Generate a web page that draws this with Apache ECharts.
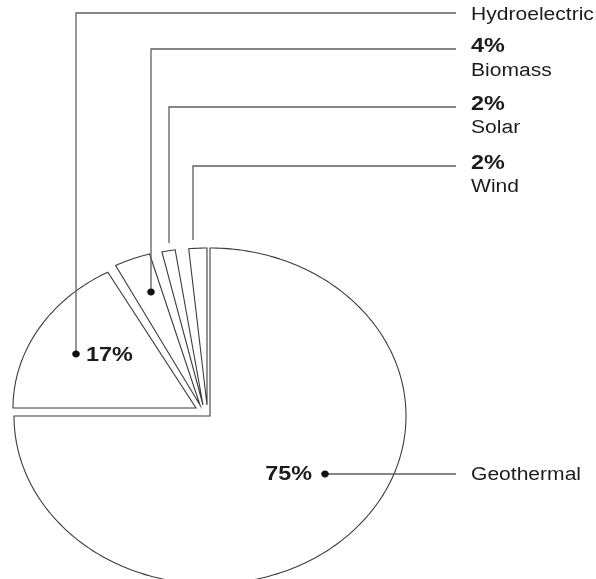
<!DOCTYPE html>
<html>
<head>
<meta charset="utf-8">
<script src="https://cdn.jsdelivr.net/npm/echarts@6/dist/echarts.min.js"></script>
<style>
  html, body { margin: 0; padding: 0; background: #ffffff; }
  #chart { width: 596px; height: 579px; }
</style>
</head>
<body>
<div id="chart"></div>
<script>
// Energy sources and their shares (percent), clockwise from 12 o'clock
const sources = ['Geothermal', 'Hydroelectric', 'Biomass', 'Solar', 'Wind'];
const shares = [75, 17, 4, 2, 2];
const shareLabels = ['75%', '17%', '4%', '2%', '2%'];

// Drawing geometry (pixels / degrees). The whole figure is stretched
// horizontally, so the pie is an ellipse and text is widened by STRETCH.
const STRETCH = 1.17;
const sliceGeom = [
  { apex: [210, 416], rx: 196, ry: 168, padStart: 0,   padEnd: 0 },
  { apex: [196, 408], rx: 183, ry: 155, padStart: 0,   padEnd: 0 },
  { apex: [200, 405], rx: 184, ry: 157, padStart: 1.5, padEnd: 1.5 },
  { apex: [203, 405], rx: 184, ry: 157, padStart: 1.5, padEnd: 1.5 },
  { apex: [207, 405], rx: 184, ry: 157, padStart: 1.5, padEnd: 0 }
];
const labelColumnX = 471;
const leaderEndX = 456;
const leaders = [
  { path: [[325, 474], [leaderEndX, 474]], dot: true,
    pct: { x: 312, y: 474, align: 'right' }, name: { x: labelColumnX, y: 475 } },
  { path: [[76, 354], [76, 13], [leaderEndX, 13]], dot: true,
    pct: { x: 86, y: 355, align: 'left' }, name: { x: labelColumnX, y: 15 } },
  { path: [[151, 292], [151, 49], [leaderEndX, 49]], dot: true,
    pct: { x: labelColumnX, y: 46, align: 'left' }, name: { x: labelColumnX, y: 71 } },
  { path: [[169, 243], [169, 107], [leaderEndX, 107]], dot: false,
    pct: { x: labelColumnX, y: 104, align: 'left' }, name: { x: labelColumnX, y: 128 } },
  { path: [[193, 240], [193, 166], [leaderEndX, 166]], dot: false,
    pct: { x: labelColumnX, y: 163, align: 'left' }, name: { x: labelColumnX, y: 187 } }
];

const FONT = '"Liberation Sans", Arial, Helvetica, sans-serif';
const total = shares.reduce((a, b) => a + b, 0);
const startShare = [];
shares.reduce((acc, v, i) => { startShare[i] = acc; return acc + v; }, 0);
const DEG = Math.PI / 180;

function stretchedText(str, x, y, align, font) {
  return {
    type: 'text', x: x, y: y, scaleX: STRETCH, z2: 7,
    style: { text: str, x: 0, y: 0, align: align, verticalAlign: 'middle',
      fill: '#1c1c1c', font: font }
  };
}

function renderSlice(params, api) {
  const i = params.dataIndex;
  const value = api.value(1);
  const g = sliceGeom[i];
  const a0 = (startShare[i] / total * 360 + g.padStart) * DEG;
  const a1 = ((startShare[i] + value) / total * 360 - g.padEnd) * DEG;
  const cx = g.apex[0], cy = g.apex[1];
  const pts = [[cx, cy]];
  const steps = Math.max(4, Math.ceil((a1 - a0) / DEG));
  for (let k = 0; k <= steps; k++) {
    const a = a0 + (a1 - a0) * k / steps;
    pts.push([cx + g.rx * Math.sin(a), cy - g.ry * Math.cos(a)]);
  }
  const L = leaders[i];
  const children = [
    { type: 'polygon', shape: { points: pts },
      style: { fill: '#ffffff', stroke: '#3c3c3c', lineWidth: 1.1, lineJoin: 'miter' }, z2: 1 },
    { type: 'polyline', shape: { points: L.path },
      style: { fill: null, stroke: '#5e5e5e', lineWidth: 1.3 }, z2: 5 }
  ];
  if (L.dot) {
    children.push({ type: 'ellipse',
      shape: { cx: L.path[0][0], cy: L.path[0][1], rx: 3.8, ry: 3.4 },
      style: { fill: '#111111' }, z2: 6 });
  }
  children.push(stretchedText(shareLabels[i], L.pct.x, L.pct.y, L.pct.align,
    'bold 20px ' + FONT));
  children.push(stretchedText(sources[i], L.name.x, L.name.y, 'left', '18px ' + FONT));
  return { type: 'group', children: children };
}

const chart = echarts.init(document.getElementById('chart'), null, { renderer: 'canvas' });
chart.setOption({
  animation: false,
  backgroundColor: '#ffffff',
  series: [{
    type: 'custom',
    coordinateSystem: 'none',
    silent: true,
    data: sources.map((s, i) => [i, shares[i]]),
    renderItem: renderSlice
  }]
});
</script>
</body>
</html>
